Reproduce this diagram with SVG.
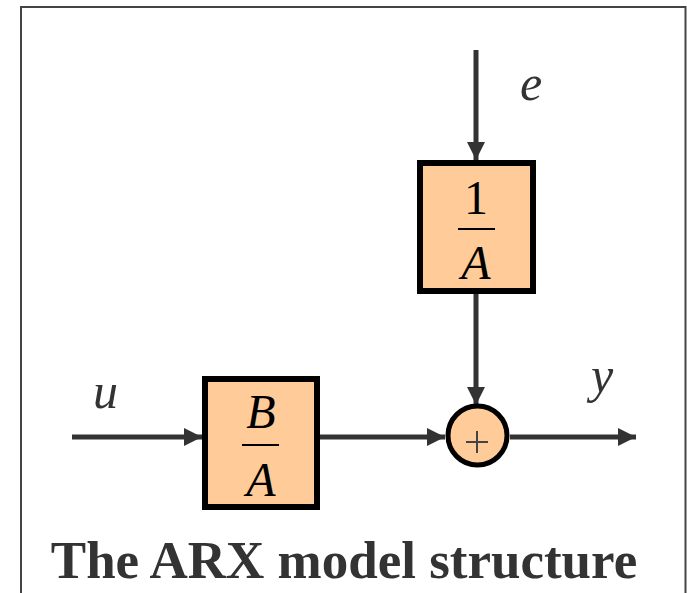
<svg xmlns="http://www.w3.org/2000/svg" width="687" height="593" viewBox="0 0 687 593">
  <style>
    .block { fill: #FFCC99; stroke: #000; stroke-width: 6; }
    .sum { fill: #FFCC99; stroke: #000; stroke-width: 5; }
    .wire { fill: none; stroke: #333; stroke-width: 5; }
    .math { font-family: "Liberation Serif", "Times New Roman", serif; font-size: 48px; fill: #000; }
    .it { font-style: italic; }
    .sig { font-family: "Liberation Serif", "Times New Roman", serif; font-style: italic; font-size: 50px; fill: #333; }
    .title { font-family: "Liberation Serif", "Times New Roman", serif; font-weight: bold; font-size: 53px; fill: #333; }
  </style>
  <defs>
    <marker id="arrow" viewBox="0 0 18 18" refX="18" refY="9" markerWidth="18" markerHeight="18" markerUnits="userSpaceOnUse" orient="auto">
      <path d="M0,0 L18,9 L0,18 Z" fill="#333"/>
    </marker>
  </defs>

  <!-- outer frame (open at the bottom) -->
  <rect width="687" height="593" fill="#fff"/>
  <path d="M21,593 L21,7 L685.5,7 L685.5,593" fill="none" stroke="#444" stroke-width="2"/>

  <!-- connectors -->
  <g id="connectors">
    <line class="wire" x1="476" y1="50" x2="476" y2="160" marker-end="url(#arrow)"/>
    <line class="wire" x1="476" y1="294" x2="476" y2="405" marker-end="url(#arrow)"/>
    <line class="wire" x1="72" y1="437" x2="202" y2="437" marker-end="url(#arrow)"/>
    <line class="wire" x1="320" y1="437" x2="445" y2="437" marker-end="url(#arrow)"/>
    <line class="wire" x1="510" y1="437" x2="636" y2="437" marker-end="url(#arrow)"/>
  </g>

  <!-- noise filter 1/A -->
  <g id="noise-filter">
    <rect class="block" x="420" y="163" width="113" height="128"/>
    <text class="math" x="476" y="214" text-anchor="middle">1</text>
    <line x1="458" y1="229" x2="495" y2="229" stroke="#000" stroke-width="2"/>
    <text class="math it" x="476" y="279" text-anchor="middle">A</text>
  </g>

  <!-- input filter B/A -->
  <g id="input-filter">
    <rect class="block" x="205" y="379" width="112" height="128"/>
    <text class="math it" x="261" y="428" text-anchor="middle">B</text>
    <line x1="242" y1="445" x2="279" y2="445" stroke="#000" stroke-width="2"/>
    <text class="math it" x="261" y="496" text-anchor="middle">A</text>
  </g>

  <!-- summing junction -->
  <g id="sum">
    <circle class="sum" cx="477.5" cy="435.5" r="29.5"/>
    <path d="M466,442 L488,442 M477,431 L477,453" stroke="#444" stroke-width="2"/>
  </g>

  <!-- signal labels -->
  <g id="labels">
    <text class="sig" x="520" y="100">e</text>
    <text class="sig" x="93" y="408">u</text>
    <text class="sig" x="591" y="392">y</text>
  </g>

  <text class="title" x="344" y="578" text-anchor="middle">The ARX model structure</text>
</svg>
